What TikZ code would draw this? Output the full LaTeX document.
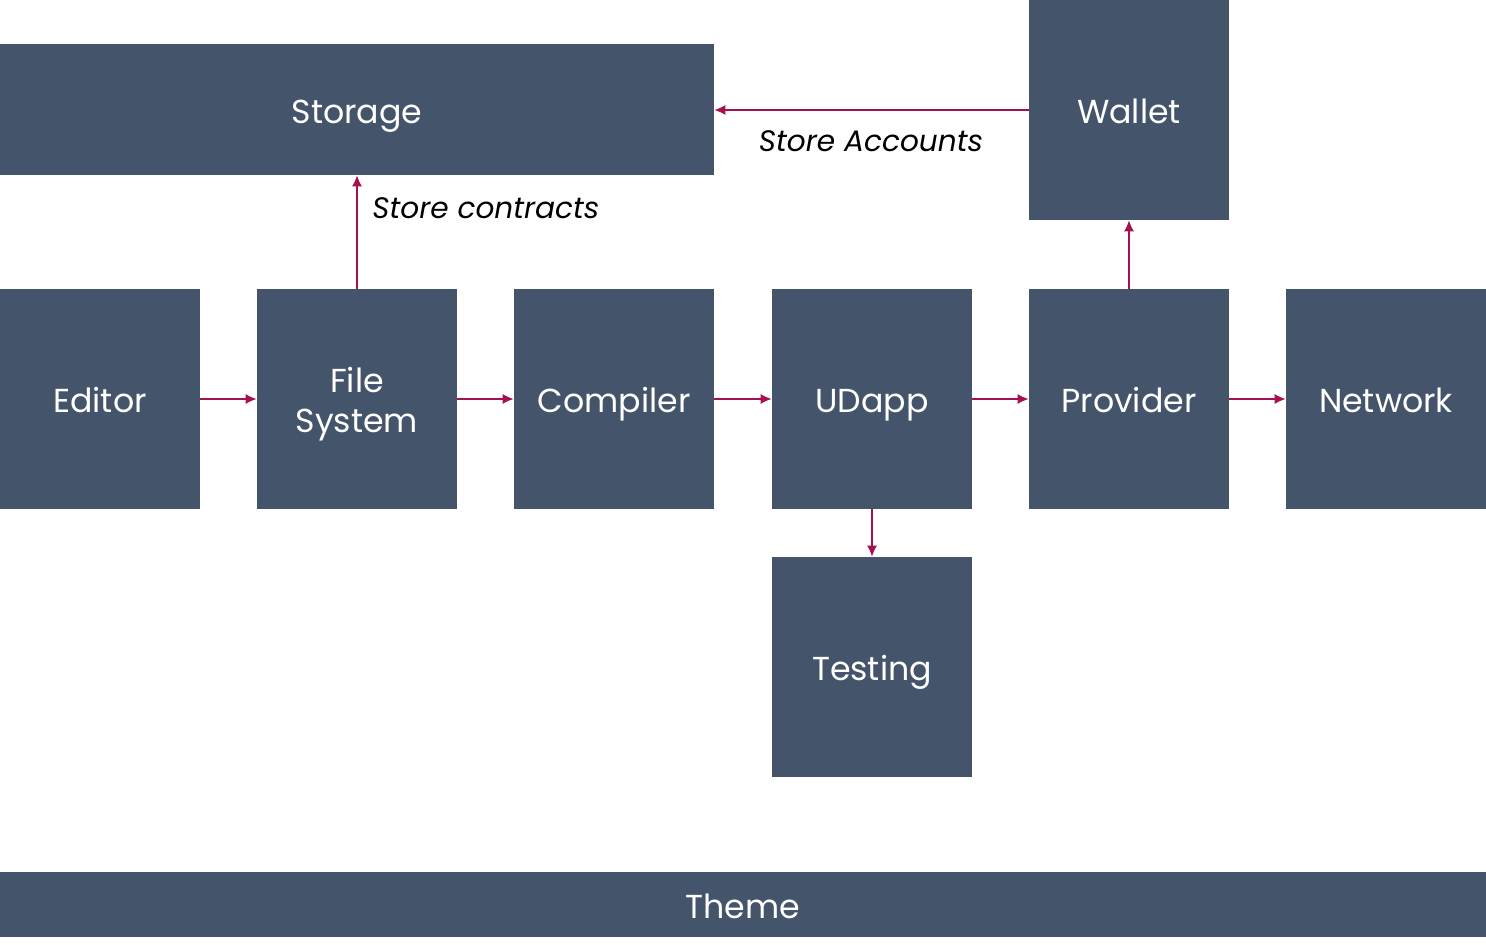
\documentclass[tikz,border=0pt]{standalone}
\usepackage{fontspec}
\setmainfont{Poppins}
\usetikzlibrary{arrows.meta}
\definecolor{blockfill}{HTML}{44546A}
\definecolor{linkred}{HTML}{A5114F}
\tikzset{
  block/.style={rectangle, fill=blockfill, text=white, inner sep=0pt, align=center,
    minimum width=100pt, minimum height=110pt, text height=13.8pt, text depth=0pt,
    font=\fontsize{16.6}{20}\selectfont},
  link/.style={draw=linkred, line width=0.6pt, -{Latex[length=5.5pt,width=5pt]}},
  linklabel/.style={font=\fontsize{14.8}{18}\selectfont\itshape, inner sep=0pt}
}
\begin{document}
\begin{tikzpicture}[x=0.5pt, y=-0.5pt]
  \useasboundingbox (0, 0) rectangle (1486, 945);
  \node (storage) [block, minimum width=357pt, minimum height=65.5pt] at (357, 109.5) {Storage};
  \node (wallet) [block] at (1129, 110) {Wallet};
  \node (editor) [block] at (100, 399) {Editor};
  \node (filesys) [block, text height=33.8pt] at (357, 399) {File\\System};
  \node (compiler) [block] at (614, 399) {Compiler};
  \node (udapp) [block] at (872, 399) {UDapp};
  \node (provider) [block] at (1129, 399) {Provider};
  \node (network) [block] at (1386, 399) {Network};
  \node (testing) [block] at (872, 667) {Testing};
  \node (theme) [block, minimum width=743pt, minimum height=32.5pt] at (743, 904.5) {Theme};

  \draw[link] (editor) -- (filesys);
  \draw[link] (filesys) -- (compiler);
  \draw[link] (compiler) -- (udapp);
  \draw[link] (udapp) -- (provider);
  \draw[link] (provider) -- (network);
  \draw[link] (udapp) -- (testing);
  \draw[link] (provider) -- (wallet);
  \draw[link] (filesys.north) -- (filesys.north |- storage.south);
  \draw[link] (wallet.west) -- (wallet.west -| storage.east);

  \node (contracts-label) [linklabel, anchor=west] at (372, 208) {Store contracts};
  \node (accounts-label) [linklabel] at (871, 141) {Store Accounts};
\end{tikzpicture}
\end{document}
